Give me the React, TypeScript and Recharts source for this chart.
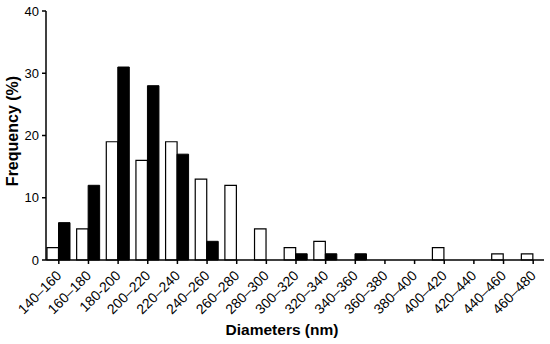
import { BarChart, Bar, XAxis, YAxis, Label } from 'recharts'

const categories = [
  '140–160', '160–180', '180-200', '200–220', '220–240', '240–260', '260–280', '280–300', '300–320',
  '320–340', '340–360', '360–380', '380–400', '400–420', '420–440', '440–460', '460–480',
]
const openValues = [2, 5, 19, 16, 19, 13, 12, 5, 2, 3, 0, 0, 0, 2, 0, 1, 1]
const filledValues = [6, 12, 31, 28, 17, 3, 0, 0, 1, 1, 1, 0, 0, 0, 0, 0, 0]
const yTicks = [0, 10, 20, 30, 40]

const data = categories.map((range, i) => ({ range, open: openValues[i], filled: filledValues[i] }))

const font = '"Liberation Sans", Arial, sans-serif'

function DiameterTick({ x, y, payload }: any) {
  return (
    <g transform={`translate(${x + 3.5},${y + 10.5}) rotate(-45)`}>
      <text x={0} y={0} textAnchor="end" fontSize={14} fill="#000" fontFamily={font}>
        {payload.value}
      </text>
    </g>
  )
}

export default function App() {
  return (
    <div style={{ position: 'absolute', left: 0, top: 0, background: '#fff' }}>
      <BarChart
        width={550}
        height={344}
        data={data}
        margin={{ top: 11, right: 6, left: 0, bottom: 0 }}
        barGap={0}
        barSize={11.5}
        style={{ fontFamily: font }}
      >
        <XAxis
          dataKey="range"
          height={84}
          interval={0}
          tick={<DiameterTick />}
          tickSize={4}
          tickMargin={2}
          stroke="#000"
          strokeWidth={1.5}
          padding={{ left: -2, right: -4 }}
        >
          <Label
            content={() => (
              <text x={282} y={335} textAnchor="middle" fontSize={15.5} fontWeight="bold" fill="#000" fontFamily={font}>
                Diameters (nm)
              </text>
            )}
          />
        </XAxis>
        <YAxis
          width={46}
          domain={[0, 40]}
          ticks={yTicks}
          interval={0}
          tickSize={4}
          tickMargin={3}
          stroke="#000"
          strokeWidth={1.5}
          tick={{ fill: '#000', fontSize: 13, fontFamily: font }}
        >
          <Label
            content={() => (
              <text
                x={0}
                y={0}
                transform="translate(18,131) rotate(-90)"
                textAnchor="middle"
                fontSize={16}
                fontWeight="bold"
                fill="#000"
                fontFamily={font}
              >
                Frequency (%)
              </text>
            )}
          />
        </YAxis>
        <Bar dataKey="open" fill="#fff" stroke="#000" strokeWidth={1.2} isAnimationActive={false} />
        <Bar dataKey="filled" fill="#000" stroke="#000" strokeWidth={1} isAnimationActive={false} />
      </BarChart>
    </div>
  )
}
